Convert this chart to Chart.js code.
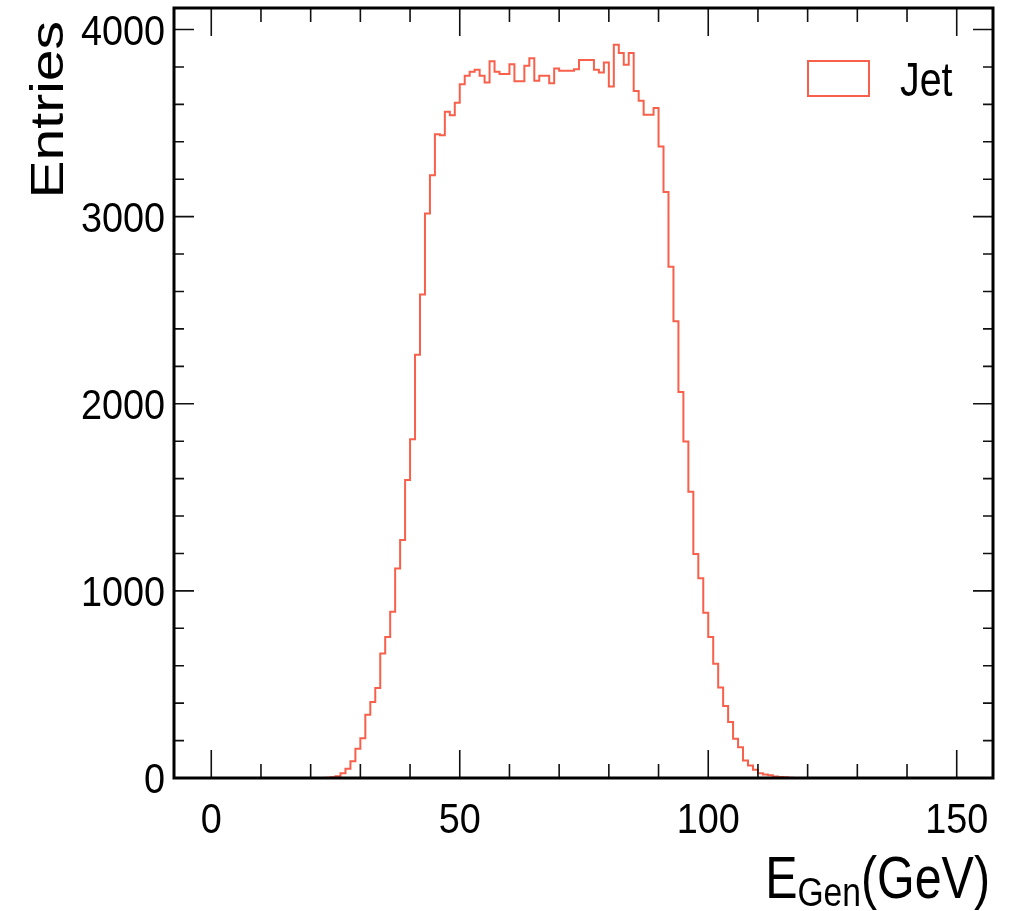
<!DOCTYPE html>
<html>
<head>
<meta charset="utf-8">
<script src="https://cdn.jsdelivr.net/npm/chart.js@4"></script>
<style>
  html, body { margin: 0; padding: 0; background: #fff; }
  #wrap { width: 1009px; height: 911px; position: relative; }
</style>
</head>
<body>
<div id="wrap"><canvas id="histCanvas"></canvas></div>
<script>
// ==================== E_Gen histogram (Jet) ====================

// --- Data: 1 GeV bins, first bin starts at 20 GeV ---
const binLow = 20;
const binWidth = 1;
const jetCounts = [
  0, 0, 0, 2, 4, 9, 26, 49, 90, 156,                 // 20-29
  213, 338, 406, 481, 665, 754, 888, 1120, 1272, 1593, // 30-39
  1811, 2262, 2584, 3017, 3221, 3440, 3435, 3560, 3542, 3608, // 40-49
  3708, 3753, 3774, 3785, 3753, 3717, 3830, 3774, 3762, 3762, // 50-59
  3815, 3723, 3723, 3806, 3846, 3726, 3753, 3753, 3713, 3792, // 60-69
  3779, 3779, 3779, 3788, 3837, 3837, 3837, 3785, 3770, 3824, // 70-79
  3696, 3919, 3874, 3812, 3874, 3672, 3619, 3544, 3544, 3580, // 80-89
  3375, 3132, 2732, 2441, 2063, 1798, 1530, 1197, 1067, 883,  // 90-99
  754, 611, 483, 385, 299, 210, 165, 94, 67, 44,              // 100-109
  26, 19, 15, 8, 6, 4, 2, 0, 0, 0                             // 110-119
];
const xTicks = [0, 50, 100, 150];
const yTicks = [0, 1000, 2000, 3000, 4000];
const seriesLabel = 'Jet';

// --- Styles ---
const LINE = '#f8604b';
const FONT = '"Liberation Sans", Arial, sans-serif';
const SQ = 0.82;   // the original canvas is squeezed horizontally

// --- Histogram outline points (left edges, stepped) ---
function histPoints(counts) {
  const pts = [{ x: binLow, y: 0 }];
  counts.forEach((c, i) => pts.push({ x: binLow + i * binWidth, y: c }));
  pts.push({ x: binLow + counts.length * binWidth, y: 0 });
  return pts;
}

// --- squeezed text helper ---
function sqText(ctx, text, x, y, size, align, sq) {
  const k = sq || SQ;
  ctx.save();
  ctx.translate(x, y);
  ctx.scale(k, 1);
  ctx.font = size + 'px ' + FONT;
  ctx.textAlign = align;
  ctx.textBaseline = 'alphabetic';
  ctx.fillText(text, 0, 0);
  const w = ctx.measureText(text).width * k;
  ctx.restore();
  return w;
}

// --- ROOT-like frame, inward ticks, labels, axis titles and legend ---
const rootFrame = {
  id: 'rootFrame',
  afterDatasetsDraw(chart) {
    const { ctx, chartArea: a, scales: { x, y } } = chart;
    ctx.save();

    // ticks
    ctx.strokeStyle = '#111';
    ctx.lineWidth = 1.6;
    ctx.beginPath();
    for (let v = 0; v <= 150; v += 10) {
      const px = x.getPixelForValue(v);
      if (px < a.left || px > a.right) continue;
      const len = xTicks.includes(v) ? 28 : 14;
      ctx.moveTo(px, a.bottom); ctx.lineTo(px, a.bottom - len);
      ctx.moveTo(px, a.top); ctx.lineTo(px, a.top + len);
    }
    for (let v = 0; v <= 4000; v += 200) {
      const py = y.getPixelForValue(v);
      const len = yTicks.includes(v) ? 20 : 10;
      ctx.moveTo(a.left, py); ctx.lineTo(a.left + len, py);
      ctx.moveTo(a.right, py); ctx.lineTo(a.right - len, py);
    }
    ctx.stroke();

    // frame
    ctx.lineWidth = 3;
    ctx.strokeStyle = '#000';
    ctx.strokeRect(a.left, a.top, a.right - a.left, a.bottom - a.top);

    // tick labels
    ctx.fillStyle = '#000';
    x.ticks.forEach(t => {
      sqText(ctx, String(t.value), x.getPixelForValue(t.value), a.bottom + 55, 42, 'center', 0.9);
    });
    y.ticks.forEach(t => {
      sqText(ctx, String(t.value), a.left - 9, y.getPixelForValue(t.value) + 15, 42, 'right', 0.9);
    });

    // x title  E_Gen(GeV), right aligned
    let xr = a.right - 3;
    xr -= sqText(ctx, '(GeV)', xr, 898, 59, 'right');
    xr -= sqText(ctx, 'Gen', xr, 906, 41, 'right');
    sqText(ctx, 'E', xr, 898, 59, 'right');

    // y title  Entries, rotated, squeezed, top aligned
    ctx.save();
    ctx.translate(63, a.top + 13);
    ctx.scale(SQ, 1);
    ctx.rotate(-Math.PI / 2);
    ctx.font = '57px ' + FONT;
    ctx.textAlign = 'right';
    ctx.fillText('Entries', 0, 0);
    ctx.restore();

    // legend
    ctx.strokeStyle = LINE;
    ctx.lineWidth = 2;
    ctx.strokeRect(a.right - 185, a.top + 53, 61, 35);
    sqText(ctx, seriesLabel, a.right - 93, a.top + 88, 48, 'left');

    ctx.restore();
  }
};

// --- Chart ---
new Chart(document.getElementById('histCanvas'), {
  type: 'line',
  data: {
    datasets: [{
      label: seriesLabel,
      data: histPoints(jetCounts),
      borderColor: LINE,
      borderWidth: 2,
      stepped: 'before',
      pointRadius: 0,
      fill: false
    }]
  },
  options: {
    responsive: true,
    maintainAspectRatio: false,
    animation: false,
    layout: { padding: { left: 0, top: 8, right: 16, bottom: 0 } },
    plugins: { legend: { display: false }, tooltip: { enabled: false } },
    scales: {
      x: {
        type: 'linear',
        min: -7.5,
        max: 157.3,
        grid: { display: false },
        border: { display: false },
        ticks: { display: false },
        afterBuildTicks: s => { s.ticks = xTicks.map(v => ({ value: v })); },
        afterFit: s => { s.height = 133; s.paddingLeft = 0; s.paddingRight = 0; }
      },
      y: {
        min: 0,
        max: 4115,
        grid: { display: false },
        border: { display: false },
        ticks: { display: false },
        afterBuildTicks: s => { s.ticks = yTicks.map(v => ({ value: v })); },
        afterFit: s => { s.width = 174; s.paddingTop = 0; s.paddingBottom = 0; }
      }
    }
  },
  plugins: [rootFrame]
});
</script>
</body>
</html>
